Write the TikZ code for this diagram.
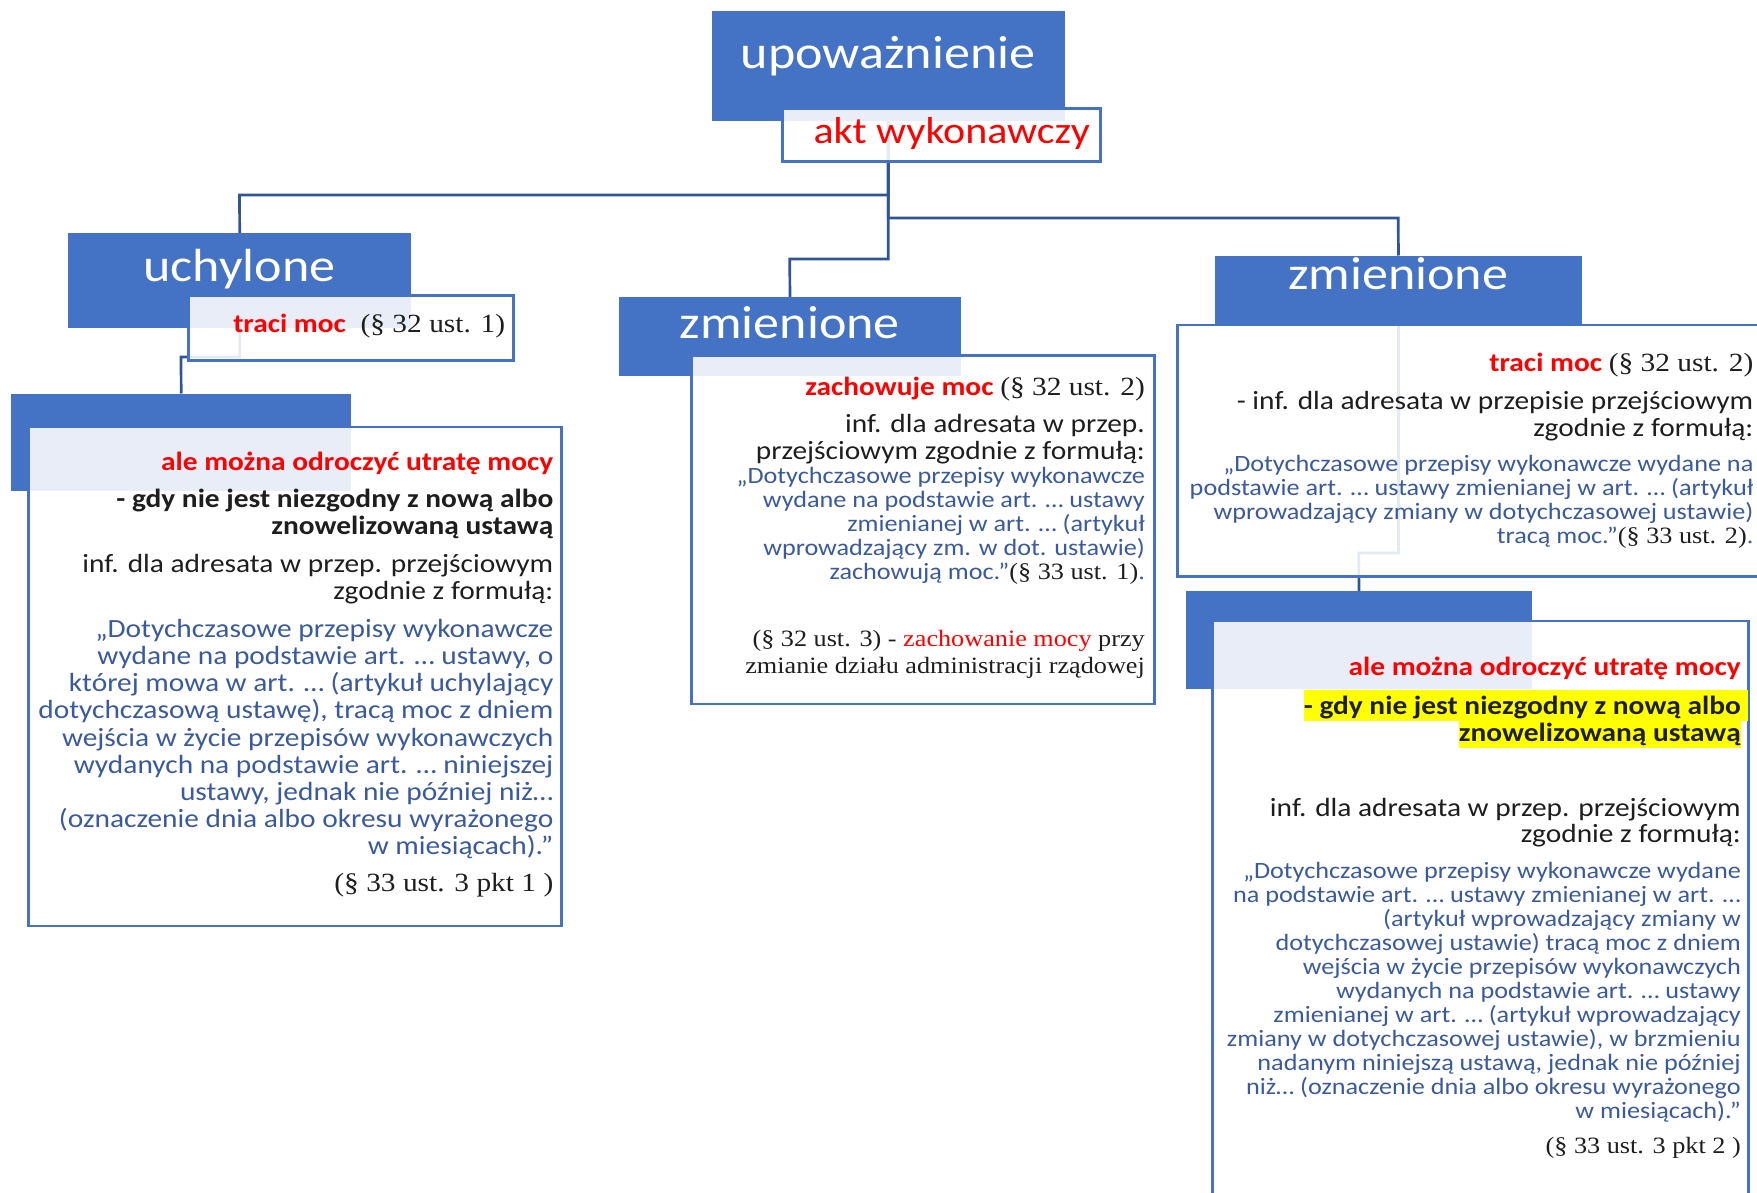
\documentclass[tikz,border=0pt]{standalone}
\usepackage{fontspec}
\setmainfont{Carlito}[FakeStretch=1.12]
\newfontfamily\tnr{Liberation Serif}[FakeStretch=1.12]
\usetikzlibrary{positioning,backgrounds}
\definecolor{hdrblue}{HTML}{4472C4}
\definecolor{linkblue}{HTML}{2F5597}
\definecolor{quoteblue}{HTML}{3A5AA0}
\definecolor{alertred}{HTML}{FF0000}
\definecolor{hlyellow}{HTML}{FFFF00}
\definecolor{bodyblack}{HTML}{1E1E1E}
\newcommand\redtxt[1]{\textcolor{alertred}{#1}}
\newcommand\tms[1]{{\tnr #1}}
% highlighted lines
\newcommand\hlA[1]{{\setlength\fboxsep{0pt}\colorbox{hlyellow}{\rule[-6.7pt]{0pt}{30.7pt}#1\rlap{\textcolor{hlyellow}{\rule[-6.7pt]{7pt}{30.7pt}}}}}}
\newcommand\hlB[1]{{\setlength\fboxsep{0pt}\colorbox{hlyellow}{\rule[-6.3pt]{0pt}{27.3pt}#1}}}
\tikzset{
    %Define style for blue header blocks
    hdr/.style={
           rectangle,
           fill=hdrblue,
           inner sep=0pt,
           anchor=north west},
    hdrtxt/.style={
           text=white,
           inner sep=0pt,
           anchor=base,
           font=\fontsize{46.5pt}{50pt}\selectfont},
    %Define style for white text boxes
    txtbox/.style={
           rectangle,
           draw=hdrblue, line width=2.5pt,
           fill=white, fill opacity=0.88,
           inner sep=0pt,
           anchor=north west},
    %Define style for text blocks (placed at the baseline of the last line)
    para/.style={
           inner sep=0pt,
           anchor=base east,
           align=right,
           text=bodyblack},
    big/.style={font=\fontsize{26.25pt}{#1}\selectfont},
    big/.default=26.7pt,
    bigbf/.style={font=\fontsize{26.25pt}{#1}\selectfont\bfseries},
    bigbf/.default=27pt,
    small/.style={font=\fontsize{23.4pt}{#1}\selectfont},
    small/.default=24pt,
    bigserif/.style={font=\fontsize{26.25pt}{26.7pt}\selectfont\tnr},
    smallserif/.style={font=\fontsize{23.4pt}{26.6pt}\selectfont\tnr},
    quote/.style={text=quoteblue},
    % Define connector style
    link/.style={
           draw=linkblue,
           line width=2.7pt}
}
\begin{document}
\begin{tikzpicture}[x=1pt,y=-1pt]
\useasboundingbox (0,0) rectangle (1757,1193);
 %fork points
\coordinate (fkU) at (239.5,195);
\coordinate (fkR) at (1398.25,218);
\coordinate (fkM) at (789.75,259);
\coordinate (fkUK) at (181,357);
\coordinate (fkZK) at (1358.75,553);

 %root
\node[hdr, minimum width=353pt, minimum height=110pt] (root) at (711.5,11) {};
\node[txtbox, minimum width=318pt, minimum height=53pt] (aktBox) at (781,107.5) {};
\node[hdrtxt] (rootTxt) at (888,68.3) {upoważnienie};
\node[para, font=\fontsize{37.5pt}{40pt}\selectfont, text=alertred] (aktTxt) at (1090,143.3) {akt wykonawczy};

 %uchylone
\node[hdr, minimum width=343pt, minimum height=95pt] (uch) at (68,233) {};
\node[txtbox, minimum width=325pt, minimum height=65pt] (uchBox) at (187,294) {};
\node[hdrtxt] (uchTxt) at (239.5,281.7) {uchylone};
\node[para, big] (uchLoss) at (505.4,332.3) {\textbf{\redtxt{traci moc}}\tms{\ \ (§ 32 ust. 1)}};

\node[hdr, minimum width=340pt, minimum height=97pt] (uchKid) at (11,393.5) {};
\node[txtbox, minimum width=533pt, minimum height=499pt] (uchKidBox) at (27,425.5) {};
\node[para, bigbf] (uchDelay) at (553.5,470) {\redtxt{ale można odroczyć utratę mocy}};
\node[para, bigbf] (uchCond) at (553.5,534.5) {- gdy nie jest niezgodny z nową albo\\znowelizowaną ustawą};
\node[para, big] (uchInfo) at (553.5,599.2) {inf. dla adresata w przep. przejściowym\\zgodnie z formułą:};
\node[para, big=27.2pt, quote] (uchQuote) at (553.5,854.9) {„Dotychczasowe przepisy wykonawcze\\wydane na podstawie art. … ustawy, o\\której mowa w art. … (artykuł uchylający\\dotychczasową ustawę), tracą moc z dniem\\wejścia w życie przepisów wykonawczych\\wydanych na podstawie art. … niniejszej\\ustawy, jednak nie później niż…\\(oznaczenie dnia albo okresu wyrażonego\\w miesiącach).”};
\node[para, bigserif] (uchRef) at (553.5,891) {(§ 33 ust. 3 pkt 1 )};

 %zmienione, middle
\node[hdr, minimum width=342.5pt, minimum height=79pt] (zmM) at (618.5,297) {};
\node[txtbox, minimum width=463pt, minimum height=348.5pt] (zmMBox) at (690,354) {};
\node[hdrtxt] (zmMTxt) at (789.75,338.3) {zmienione};
\node[para, big] (zmMKeep) at (1145,395) {\textbf{\redtxt{zachowuje moc}} \tms{(§ 32 ust. 2)}};
\node[para, big=26.6pt] (zmMInfo) at (1145,459.3) {inf. dla adresata w przep.\\przejściowym zgodnie z formułą:};
\node[para, small, quote] (zmMQuote) at (1145,579.5) {„Dotychczasowe przepisy wykonawcze\\wydane na podstawie art. … ustawy\\zmienianej w art. … (artykuł\\wprowadzający zm. w dot. ustawie)\\zachowują moc.”\textcolor{bodyblack}{\tms{(§ 33 ust. 1)}}\tms{.}};
\node[para, smallserif] (zmMDept) at (1145,673.3) {(§ 32 ust. 3) - \redtxt{zachowanie mocy} przy\\zmianie działu administracji rządowej};

 %zmienione, right
\node[hdr, minimum width=366.5pt, minimum height=68pt] (zmR) at (1215,255.5) {};
\node[txtbox, minimum width=600pt, minimum height=251.5pt] (zmRBox) at (1176,323.5) {};
\node[hdrtxt] (zmRTxt) at (1398.25,290) {zmienione};
\node[para, big] (zmRLoss) at (1753.5,371.7) {\textbf{\redtxt{traci moc}} \tms{(§ 32 ust. 2)}};
\node[para, big] (zmRInfo) at (1753.5,436) {- inf. dla adresata w przepisie przejściowym\\zgodnie z formułą:};
\node[para, small=23.9pt, quote] (zmRQuote) at (1753.5,543.4) {„Dotychczasowe przepisy wykonawcze wydane na\\podstawie art. … ustawy zmienianej w art. … (artykuł\\wprowadzający zmiany w dotychczasowej ustawie)\\tracą moc."\textcolor{bodyblack}{\tms{(§ 33 ust. 2)}}\tms{.}};

\node[hdr, minimum width=346.5pt, minimum height=98pt] (zmKid) at (1185.5,591) {};
\node[txtbox, minimum width=536pt, minimum height=600pt] (zmKidBox) at (1211,619.5) {};
\node[para, bigbf] (zmKDelay) at (1741,675) {\redtxt{ale można odroczyć utratę mocy}};
\node[para, bigbf=27.7pt] (zmKCond) at (1741,741.7) {\hlA{- gdy nie jest niezgodny z nową albo}\\\hlB{znowelizowaną ustawą}};
\node[para, big=26pt] (zmKInfo) at (1741,842.7) {inf. dla adresata w przep. przejściowym\\zgodnie z formułą:};
\node[para, small, quote] (zmKQuote) at (1741,1118.3) {„Dotychczasowe przepisy wykonawcze wydane\\na podstawie art. … ustawy zmienianej w art. …\\(artykuł wprowadzający zmiany w\\dotychczasowej ustawie) tracą moc z dniem\\wejścia w życie przepisów wykonawczych\\wydanych na podstawie art. … ustawy\\zmienianej w art. … (artykuł wprowadzający\\zmiany w dotychczasowej ustawie), w brzmieniu\\nadanym niniejszą ustawą, jednak nie później\\niż… (oznaczenie dnia albo okresu wyrażonego\\w miesiącach).”};
\node[para, smallserif] (zmKRef) at (1741,1153.3) {(§ 33 ust. 3 pkt 2 )};

 %connectors
\begin{pgfonlayer}{background}
\draw[link] (root.center) |- (fkU) -- (uch.north);
\draw[link] (root.center) |- (fkR) -- (zmR.north);
\draw[link] (root.center) |- (fkM) -- (zmM.north);
\draw[link] (uch.center) |- (fkUK) -- (uchKid.north);
\draw[link] (zmR.center) |- (fkZK) -- (zmKid.north);
\end{pgfonlayer}
\end{tikzpicture}
\end{document}
